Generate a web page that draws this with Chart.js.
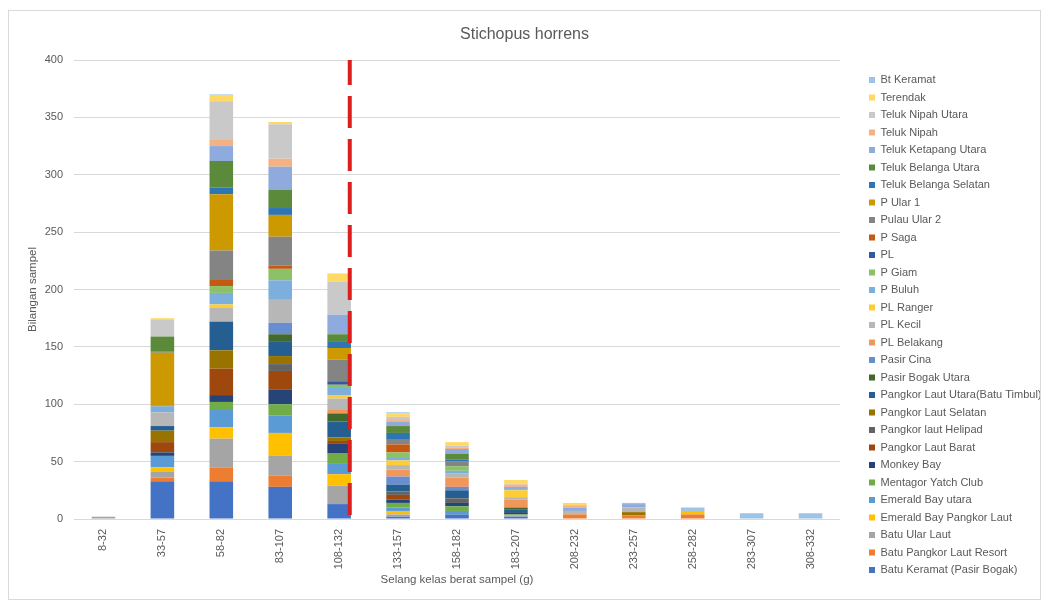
<!DOCTYPE html>
<html>
<head>
<meta charset="utf-8">
<title>Stichopus horrens</title>
<script src="https://cdn.jsdelivr.net/npm/chart.js@4.4.1/dist/chart.umd.min.js"></script>
<style>
  body { margin: 0; background: #fff; }
  #frame {
    position: absolute;
    left: 8px;
    top: 10px;
    width: 1031px;
    height: 588px;
    border: 1px solid #d9d9d9;
  }
</style>
</head>
<body>
<div id="frame"><canvas id="chart"></canvas></div>
<script>
// Kelas berat (g)
const weightClasses = ["8-32", "33-57", "58-82", "83-107", "108-132", "133-157", "158-182",
  "183-207", "208-232", "233-257", "258-282", "283-307", "308-332"];
const countTicks = [0, 50, 100, 150, 200, 250, 300, 350, 400];

// Bilangan sampel ikut lokasi, satu nilai bagi setiap kelas berat
const batuKeramatPasirBogak = [0, 33, 33, 28, 13, 2, 4, 2, 0, 0, 0, 0, 0];
const batuPangkorLautResort = [0, 3, 12, 10, 0, 0, 0, 0, 4, 3, 4, 0, 0];
const batuUlarLaut = [2, 5, 25, 17, 16, 2, 0, 1, 0, 0, 0, 0, 0];
const emeraldBayPangkorLaut = [0, 4, 10, 20, 10, 3, 0, 0, 0, 0, 3, 0, 0];
const emeraldBayUtara = [0, 10, 15, 15, 9, 3, 3, 0, 0, 0, 0, 0, 0];
const mentagorYatchClub = [0, 0, 7, 10, 9, 4, 4, 1, 0, 0, 0, 0, 0];
const monkeyBay = [0, 3, 6, 13, 9, 3, 3, 2, 0, 0, 0, 0, 0];
const pangkorLautBarat = [0, 9, 23, 16, 2, 4, 0, 0, 0, 0, 0, 0, 0];
const pangkorLautHelipad = [0, 0, 0, 6, 0, 3, 4, 0, 0, 0, 0, 0, 0];
const pangkorLautSelatan = [0, 10, 16, 7, 3, 0, 0, 0, 0, 3, 0, 0, 0];
const pangkorLautUtara = [0, 4, 25, 13, 14, 6, 7, 2, 0, 0, 0, 0, 0];
const pasirBogakUtara = [0, 0, 0, 6, 7, 0, 0, 2, 0, 0, 0, 0, 0];
const pasirCina = [0, 0, 0, 10, 0, 7, 3, 0, 0, 0, 0, 0, 0];
const plBelakang = [0, 0, 0, 0, 3, 6, 8, 7, 0, 0, 0, 0, 0];
const plKecil = [0, 12, 12, 20, 10, 4, 4, 2, 3, 4, 0, 0, 0];
const plRanger = [0, 0, 3, 0, 3, 4, 0, 6, 0, 0, 0, 0, 0];
const pBuluh = [0, 5, 10, 17, 7, 3, 2, 1, 0, 0, 0, 0, 0];
const pGiam = [0, 0, 6, 10, 2, 4, 4, 0, 0, 0, 0, 0, 0];
const pl = [0, 0, 0, 0, 3, 0, 0, 0, 0, 0, 0, 0, 0];
const pSaga = [0, 0, 6, 3, 0, 7, 0, 0, 0, 0, 0, 0, 0];
const pulauUlar2 = [0, 1, 25, 25, 19, 4, 4, 0, 0, 0, 0, 0, 0];
const pUlar1 = [0, 46, 49, 19, 10, 0, 0, 0, 0, 0, 0, 0, 0];
const telukBelangaSelatan = [0, 1, 6, 6, 6, 6, 2, 0, 0, 0, 0, 0, 0];
const telukBelangaUtara = [0, 13, 23, 16, 6, 6, 5, 0, 0, 0, 0, 0, 0];
const telukKetapangUtara = [0, 0, 13, 20, 17, 4, 4, 2, 3, 3, 0, 0, 0];
const telukNipah = [0, 0, 6, 7, 0, 2, 1, 2, 2, 0, 0, 0, 0];
const telukNipahUtara = [0, 15, 33, 30, 29, 2, 2, 1, 0, 0, 0, 0, 0];
const terendak = [0, 1, 5, 2, 7, 3, 3, 3, 2, 0, 0, 0, 0];
const btKeramat = [0, 0, 1, 0, 0, 1, 0, 0, 0, 1, 3, 5, 5];

// garis had pada kelas 108-132
const cutoffClass = "108-132";
const cutoffShift = 0.18;

const series = [
  ["Batu Keramat (Pasir Bogak)", batuKeramatPasirBogak, "#4472c4"],
  ["Batu Pangkor Laut Resort", batuPangkorLautResort, "#ed7d31"],
  ["Batu Ular Laut", batuUlarLaut, "#a5a5a5"],
  ["Emerald Bay Pangkor Laut", emeraldBayPangkorLaut, "#ffc000"],
  ["Emerald Bay utara", emeraldBayUtara, "#5b9bd5"],
  ["Mentagor Yatch Club", mentagorYatchClub, "#70ad47"],
  ["Monkey Bay", monkeyBay, "#264478"],
  ["Pangkor Laut Barat", pangkorLautBarat, "#9e480e"],
  ["Pangkor laut Helipad", pangkorLautHelipad, "#636363"],
  ["Pangkor Laut Selatan", pangkorLautSelatan, "#997300"],
  ["Pangkor Laut Utara(Batu Timbul)", pangkorLautUtara, "#255e91"],
  ["Pasir Bogak Utara", pasirBogakUtara, "#43682b"],
  ["Pasir Cina", pasirCina, "#698ed0"],
  ["PL Belakang", plBelakang, "#f1975a"],
  ["PL Kecil", plKecil, "#b7b7b7"],
  ["PL Ranger", plRanger, "#ffcd33"],
  ["P Buluh", pBuluh, "#7cafdd"],
  ["P Giam", pGiam, "#8cc168"],
  ["PL", pl, "#335aa1"],
  ["P Saga", pSaga, "#c65911"],
  ["Pulau Ular 2", pulauUlar2, "#848484"],
  ["P Ular 1", pUlar1, "#cc9a00"],
  ["Teluk Belanga Selatan", telukBelangaSelatan, "#2e75b6"],
  ["Teluk Belanga Utara", telukBelangaUtara, "#5a8a3a"],
  ["Teluk Ketapang Utara", telukKetapangUtara, "#8faadc"],
  ["Teluk Nipah", telukNipah, "#f4b183"],
  ["Teluk Nipah Utara", telukNipahUtara, "#c9c9c9"],
  ["Terendak", terendak, "#ffd966"],
  ["Bt Keramat", btKeramat, "#9dc3e6"]
];

Chart.defaults.font.family = '"Liberation Sans", Arial, sans-serif';
Chart.defaults.color = "#595959";

// lajur legenda tetap di kanan, sedikit ke dalam dari tepi plot
const legendColumn = {
  id: "legendColumn",
  afterInit(chart) {
    const legend = chart.legend;
    const fit = legend.fit;
    legend.fit = function () {
      fit.call(this);
      this.width = 200;
    };
  },
  afterLayout(chart) {
    chart.legend.left += 22.5;
    chart.legend.right += 22.5;
  }
};

// garis putus-putus merah
const cutoffLine = {
  id: "cutoffLine",
  afterDatasetsDraw(chart) {
    const { ctx, scales } = chart;
    const x = scales.x.getPixelForValue(weightClasses.indexOf(cutoffClass) + cutoffShift);
    const top = scales.y.getPixelForValue(countTicks[countTicks.length - 1]);
    const bottom = scales.y.getPixelForValue(0);
    ctx.save();
    ctx.strokeStyle = "#dc1f1c";
    ctx.lineWidth = 4;
    ctx.setLineDash([32, 11]);
    ctx.lineDashOffset = 7;
    ctx.beginPath();
    ctx.moveTo(x, top);
    ctx.lineTo(x, bottom);
    ctx.stroke();
    ctx.restore();
  }
};

new Chart(document.getElementById("chart"), {
  type: "bar",
  data: {
    labels: weightClasses,
    datasets: series.map(([label, values, colour]) => ({
      label: label,
      data: values,
      backgroundColor: colour,
      borderWidth: 0,
      barPercentage: 0.4,
      categoryPercentage: 1
    }))
  },
  options: {
    responsive: true,
    maintainAspectRatio: false,
    animation: false,
    layout: { padding: 0 },
    scales: {
      x: {
        stacked: true,
        grid: { display: false },
        border: { display: false },
        ticks: {
          autoSkip: false,
          minRotation: 90,
          maxRotation: 90,
          padding: 2,
          font: { size: 11 }
        },
        title: {
          display: true,
          text: "Selang kelas berat sampel (g)",
          font: { size: 11.5 },
          padding: { top: 0, bottom: 12 }
        },
        afterFit(scale) {
          scale.height = 80;
        }
      },
      y: {
        stacked: true,
        min: 0,
        max: 400,
        grid: { color: "#d9d9d9", drawTicks: false },
        border: { display: false },
        ticks: { padding: 11, font: { size: 11 } },
        afterBuildTicks(scale) {
          scale.ticks = countTicks.map((v) => ({ value: v }));
        },
        title: {
          display: true,
          text: "Bilangan sampel",
          font: { size: 11.5 },
          padding: { top: 17, bottom: 0 }
        },
        afterFit(scale) {
          scale.width = 65;
        }
      }
    },
    plugins: {
      title: {
        display: true,
        text: "Stichopus horrens",
        font: { size: 16, weight: "normal" },
        padding: { top: 13.5, bottom: 16.3 }
      },
      legend: {
        position: "right",
        reverse: true,
        title: { display: true, text: "", font: { size: 11 }, padding: { top: 26.8, bottom: 0 } },
        labels: {
          boxWidth: 6,
          boxHeight: 6,
          padding: 6.5,
          font: { size: 11 }
        }
      },
      tooltip: { enabled: false }
    }
  },
  plugins: [legendColumn, cutoffLine]
});
</script>
</body>
</html>
